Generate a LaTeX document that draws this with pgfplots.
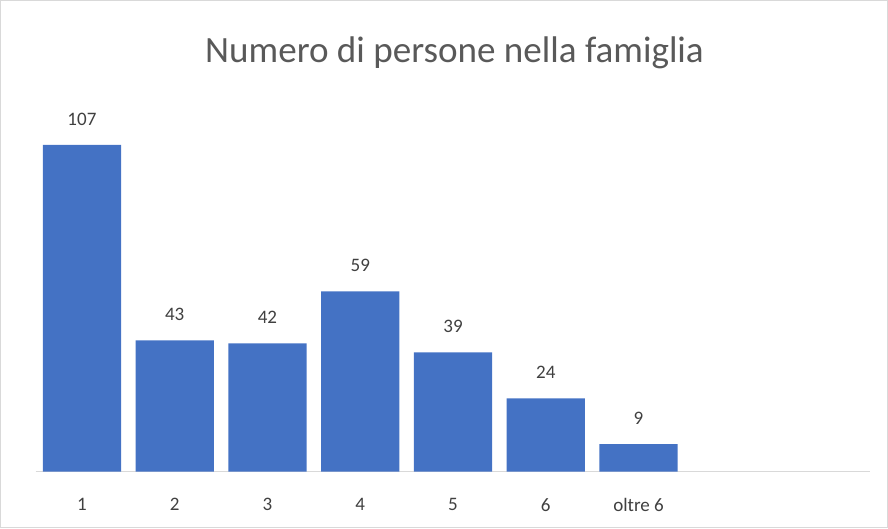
\documentclass[border=0pt]{standalone}
\usepackage{pgfplots}
\pgfplotsset{compat=1.18}
\usepackage{fontspec}
\setmainfont{Carlito}
\definecolor{barblue}{HTML}{4472C4}
\definecolor{txt}{HTML}{404040}
\definecolor{ttl}{HTML}{595959}
\definecolor{frame}{HTML}{D9D9D9}
\begin{document}
\begin{tikzpicture}[x=1pt,y=1pt]
\draw[frame, line width=1pt] (1,1) rectangle (886,527);
\begin{axis}[
  at={(36pt,57pt)}, anchor=south west,
  scale only axis, width=833pt, height=365.6pt,
  xmin=-0.5, xmax=8.5, ymin=0, ymax=120,
  axis line style={draw=none},
  axis x line*=bottom,
  ytick=\empty,
  xtick={0,1,2,3,4,5,6},
  xticklabels={1,2,3,4,5,6,oltre 6},
  major tick length=0pt,
  x tick label style={font=\fontsize{19}{22}\selectfont, text=txt, yshift=-23pt},
  ybar, bar width=78pt,
  nodes near coords,
  /pgf/number format/assume math mode=true,
  every node near coord/.append style={font=\fontsize{19}{22}\selectfont, text=txt, yshift=16pt},
  clip=false,
]
\draw[frame, line width=1pt] (axis cs:-0.5,0) -- (axis cs:8.5,0);
\addplot[fill=barblue, draw=none] coordinates {(0,107) (1,43) (2,42) (3,59) (4,39) (5,24) (6,9)};
\end{axis}
\node[text=ttl, font=\fontsize{37}{44}\selectfont] at (454,529-54) {Numero di persone nella famiglia};
\end{tikzpicture}
\end{document}
